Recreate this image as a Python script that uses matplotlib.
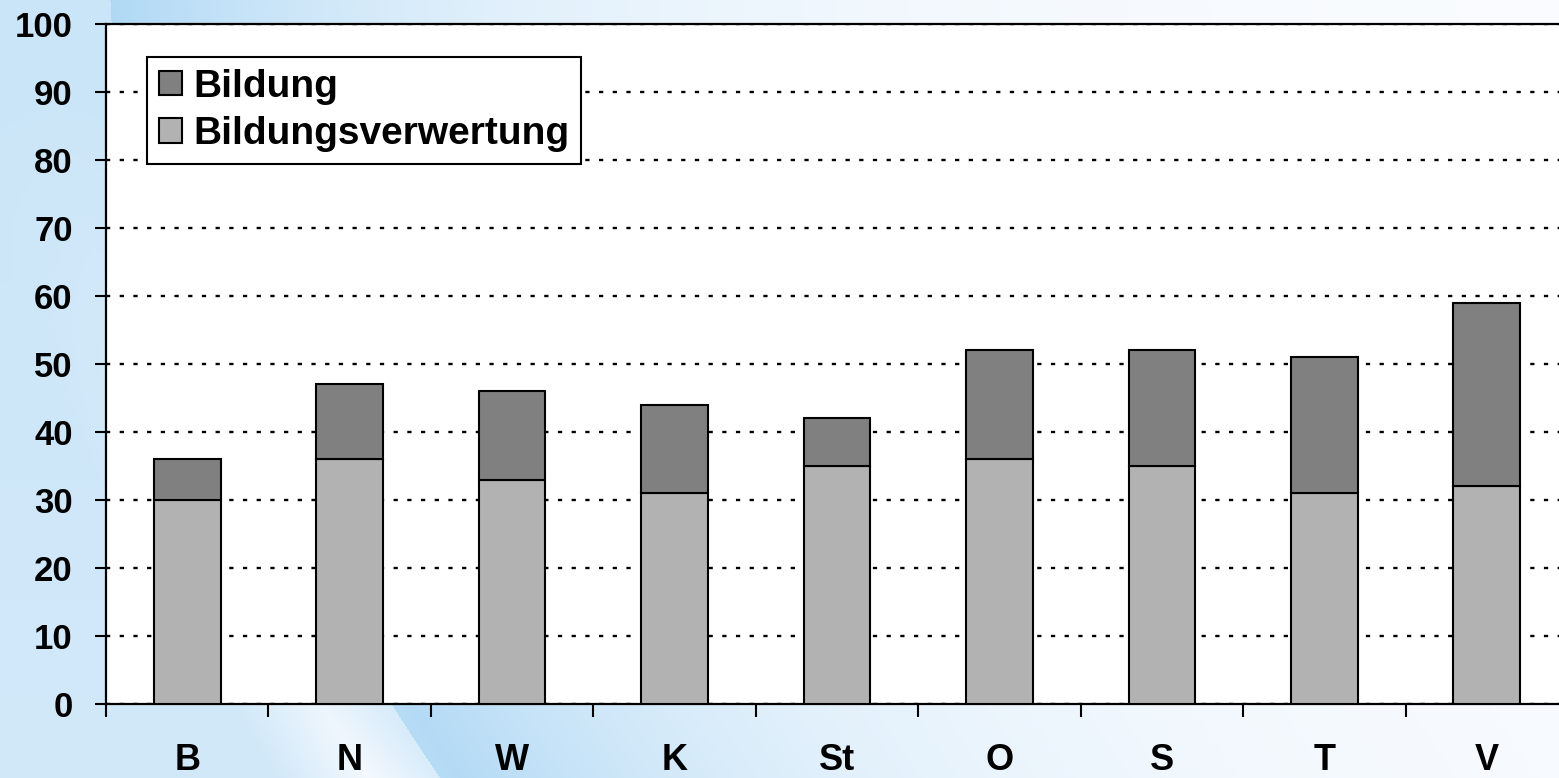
import numpy as np
import matplotlib
matplotlib.use("Agg")
import matplotlib.pyplot as plt

# ---- data ----
categories = ["B", "N", "W", "K", "St", "O", "S", "T", "V"]
bildungsverwertung = [30, 36, 33, 31, 35, 36, 35, 31, 32]
bildung = [6, 11, 13, 13, 7, 16, 17, 20, 27]
y_ticks = [0, 10, 20, 30, 40, 50, 60, 70, 80, 90, 100]
series_labels = ["Bildung", "Bildungsverwertung"]

plt.rcParams['font.family'] = ['Liberation Sans', 'DejaVu Sans']
plt.rcParams['font.weight'] = 'bold'

W, H = 1559, 778
fig = plt.figure(figsize=(W / 100, H / 100), dpi=100)

# ---- decorative background (light blue swoosh) ----
yy, xx = np.mgrid[0:H, 0:W].astype(float)
x0 = 110 + (440 - 110) * (yy / H) ** 1.6
d = xx - x0
band = np.where(d >= 0, np.exp(-d / 380.0), 0.0)
left = np.where(d < 0, 0.55 + 0.1 * (1 - yy / H), 0.0)
gap = np.clip(1 - np.abs(d + 70) / 90.0, 0, 1) * (yy / H) ** 2
inten = np.clip(band + left - 0.45 * gap, 0, 1)
full = np.array([0.69, 0.85, 0.96])
white = np.array([0.985, 0.99, 1.0])
img = white[None, None, :] * (1 - inten[..., None]) + full[None, None, :] * inten[..., None]
bg = fig.add_axes([0, 0, 1, 1], zorder=-10)
bg.imshow(img, aspect='auto', extent=[0, 1, 0, 1], interpolation='bilinear')
bg.axis('off')

# ---- main axes ----
ax = fig.add_axes([106 / W, 1 - 704 / H, 1462 / W, 680 / H])
ax.set_facecolor('white')
x = np.arange(len(categories))
b1 = ax.bar(x, bildungsverwertung, width=0.41, color='#b2b2b2',
            edgecolor='black', linewidth=1.5, label=series_labels[1], zorder=3)
b2 = ax.bar(x, bildung, bottom=bildungsverwertung, width=0.41, color='#808080',
            edgecolor='black', linewidth=1.5, label=series_labels[0], zorder=3)

ax.set_xlim(-0.5, len(categories) - 0.5)
ax.set_ylim(0, 100)
ax.set_yticks(y_ticks)
ax.set_yticklabels([str(v) for v in y_ticks], fontsize=25, fontweight='bold')
ax.set_xticks(x)
ax.set_xticklabels(categories, fontsize=26, fontweight='bold')
ax.set_xticks(np.arange(-0.5, len(categories) + 0.5, 1), minor=True)
ax.tick_params(axis='x', which='major', length=0, pad=28)
ax.tick_params(axis='x', which='minor', length=9, width=1.5, direction='out')
ax.tick_params(axis='y', which='major', length=8, width=1.5, direction='out', pad=16)

ax.yaxis.grid(True, color='black', linestyle=(0, (1.8, 4.0)), linewidth=1.7)
ax.set_axisbelow(True)

for side in ['left', 'bottom', 'top']:
    ax.spines[side].set_linewidth(1.6)
    ax.spines[side].set_color('black')
ax.spines['right'].set_visible(False)

leg = ax.legend([b2, b1], series_labels, loc='upper left',
                bbox_to_anchor=((147 - 106) / 1462, 1 - (57 - 24) / 680),
                borderaxespad=0, fancybox=False, framealpha=1,
                edgecolor='black', prop={'size': 28, 'weight': 'bold'},
                handlelength=0.6, handleheight=0.6, handletextpad=0.3,
                borderpad=0.3, labelspacing=0.3)
leg.get_frame().set_linewidth(1.5)

fig.savefig('out.png', dpi=100)
